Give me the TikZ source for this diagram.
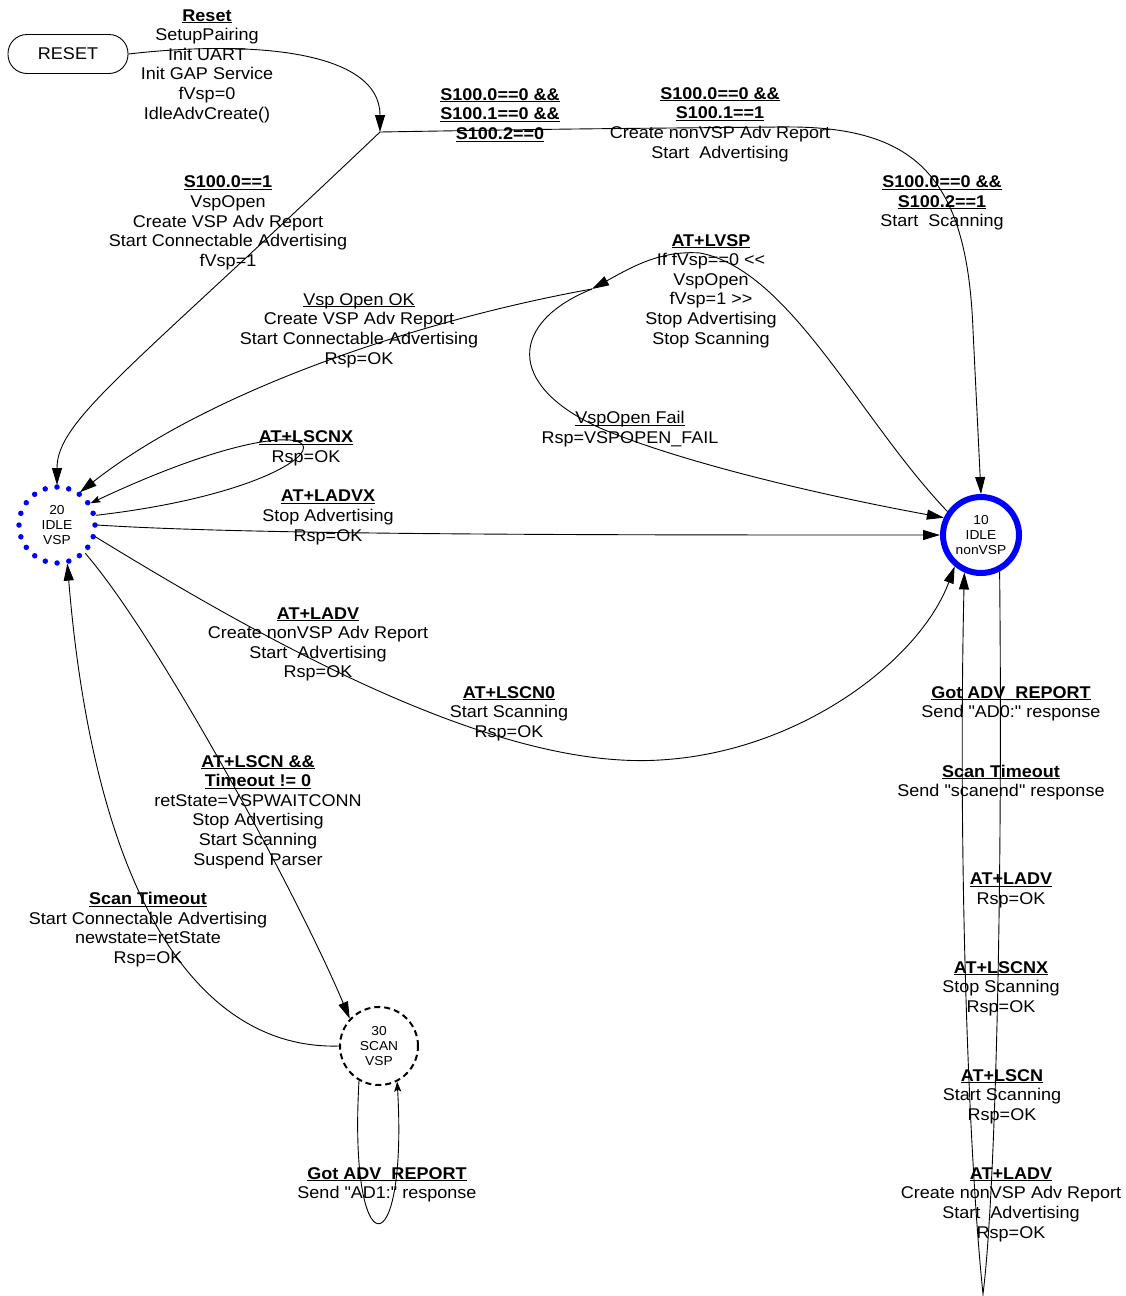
\documentclass[tikz,border=0pt]{standalone}
\usepackage{fontspec}
\setmainfont{Liberation Sans}[Ligatures=TeXOff, FakeStretch=1.06]
\usetikzlibrary{arrows.meta}
\newsavebox\myulbox
\newcommand{\myul}[1]{\sbox\myulbox{#1}\rlap{\rule[-2pt]{\wd\myulbox}{1pt}}\usebox\myulbox}
\newcommand{\hd}[1]{\myul{\textbf{#1}}}
\begin{document}
\begin{tikzpicture}[x=1pt,y=-1pt,line width=0.9pt,
  font=\fontsize{17}{19.6}\selectfont,
  lbl/.style={align=center,inner sep=0pt,yshift=-2pt},
  stnode/.style={circle,inner sep=0pt,align=center,font=\fontsize{13}{14.7}\selectfont},
  arr/.style={-{Triangle[length=17pt,width=10pt]}},
  sarr/.style={-{Stealth[length=10pt,width=7pt,inset=2pt]}}]
\useasboundingbox (0,0) rectangle (1126,1296);

% states
\node[draw, rectangle, rounded corners=19pt, minimum width=120pt, minimum height=39pt, inner sep=0pt] (reset) at (68,54) {RESET};
\node[stnode, draw=blue, line width=5.5pt, dash pattern=on 0pt off 11.94pt, line cap=round, minimum size=76pt, outer sep=2pt] (n20) at (57,525) {20\\IDLE\\VSP};
\node[stnode, draw=blue, line width=6pt, minimum size=76pt] (n10) at (981,535) {10\\IDLE\\nonVSP};
\node[stnode, draw, line width=2pt, dash pattern=on 6pt off 4pt, minimum size=78pt] (n30) at (379,1046) {30\\SCAN\\VSP};

\coordinate (j1) at (380,132);
\coordinate (j2) at (592,289);

% connectors
\draw[arr] (reset.east) .. controls (250,40) and (380,50) .. (j1);
\draw[arr] (j1) .. controls (130,370) and (57,420) .. (n20.north);
\draw[arr] (j1) .. controls (560,129) .. (780,127) .. controls (915,125) and (967,175) .. (973,330) -- (n10.north);
\draw[arr] (n10.145) .. controls (860,420) and (790,270) .. (700,253) .. controls (660,250) and (630,268) .. (j2);
\draw[arr] (j2) .. controls (510,322) and (505,385) .. (600,428) .. controls (680,462) and (820,495) .. (n10.155);
\draw[arr] (j2) .. controls (420,320) and (210,390) .. (n20.55);
\draw[sarr] (n20.14) .. controls (375,483) and (370,372) .. (n20.33);
\draw[arr] (n20.east) .. controls (250,535) and (600,535) .. (n10.west);
\draw[arr] (n20.-17) .. controls (280,650) and (500,770) .. (660,760) .. controls (800,752) and (920,660) .. (n10.-130);
\draw[arr] (n20.-45) .. controls (160,640) and (300,900) .. (n30.137);
\draw[arr] (n30.west) .. controls (200,1050) and (95,900) .. (n20.-75);
\draw[sarr] (n30.-120) .. controls (348,1270) and (408,1270) .. (n30.-63);
\draw[arr] (n10.-63) .. controls (1003,900) and (995,1200) .. (983,1294) .. controls (968,1150) and (958,850) .. (n10.-114);

% labels
\node[lbl] (l1) at (207,64) {\hd{Reset}\\SetupPairing\\Init UART\\Init GAP Service\\fVsp=0\\IdleAdvCreate()};
\node[lbl] (l2) at (228,221) {\hd{S100.0==1}\\VspOpen\\Create VSP Adv Report\\Start Connectable Advertising\\fVsp=1};
\node[lbl] (l3) at (500,113) {\hd{S100.0==0 \&\&}\\\hd{S100.1==0 \&\&}\\\hd{S100.2==0}};
\node[lbl] (l4) at (720,122.5) {\hd{S100.0==0 \&\&}\\\hd{S100.1==1}\\Create nonVSP Adv Report\\Start~ Advertising};
\node[lbl] (l5) at (942,201) {\hd{S100.0==0 \&\&}\\\hd{S100.2==1}\\Start~ Scanning};
\node[lbl] (l6) at (711,289) {\hd{AT+LVSP}\\If fVsp==0 <<\\VspOpen\\fVsp=1 >>\\Stop Advertising\\Stop Scanning};
\node[lbl] (l7) at (359,328.5) {\myul{Vsp Open OK}\\Create VSP Adv Report\\Start Connectable Advertising\\Rsp=OK};
\node[lbl] (l8) at (630,427) {\myul{VspOpen Fail}\\Rsp=VSPOPEN\_FAIL};
\node[lbl] (l9) at (306,446.5) {\hd{AT+LSCNX}\\Rsp=OK};
\node[lbl] (l10) at (328,515.5) {\hd{AT+LADVX}\\Stop Advertising\\Rsp=OK};
\node[lbl] (l11) at (318,642.5) {\hd{AT+LADV}\\Create nonVSP Adv Report\\Start~ Advertising\\Rsp=OK};
\node[lbl] (l12) at (509,711.5) {\hd{AT+LSCN0}\\Start Scanning\\Rsp=OK};
\node[lbl] (l13) at (258,810) {\hd{AT+LSCN \&\&}\\\hd{Timeout != 0}\\retState=VSPWAITCONN\\Stop Advertising\\Start Scanning\\Suspend Parser};
\node[lbl] (l14) at (148,927.5) {\hd{Scan Timeout}\\Start Connectable Advertising\\newstate=retState\\Rsp=OK};
\node[lbl] (l15) at (387,1183) {\hd{Got ADV\_REPORT}\\Send "AD1:" response};
\node[lbl] (l16) at (1011,702) {\hd{Got ADV\_REPORT}\\Send "AD0:" response};
\node[lbl] (l17) at (1001,780.5) {\hd{Scan Timeout}\\Send "scanend" response};
\node[lbl] (l18) at (1011,888.5) {\hd{AT+LADV}\\Rsp=OK};
\node[lbl] (l19) at (1001,986.5) {\hd{AT+LSCNX}\\Stop Scanning\\Rsp=OK};
\node[lbl] (l20) at (1002,1094.5) {\hd{AT+LSCN}\\Start Scanning\\Rsp=OK};
\node[lbl] (l21) at (1011,1202.5) {\hd{AT+LADV}\\Create nonVSP Adv Report\\Start~ Advertising\\Rsp=OK};
\end{tikzpicture}
\end{document}
